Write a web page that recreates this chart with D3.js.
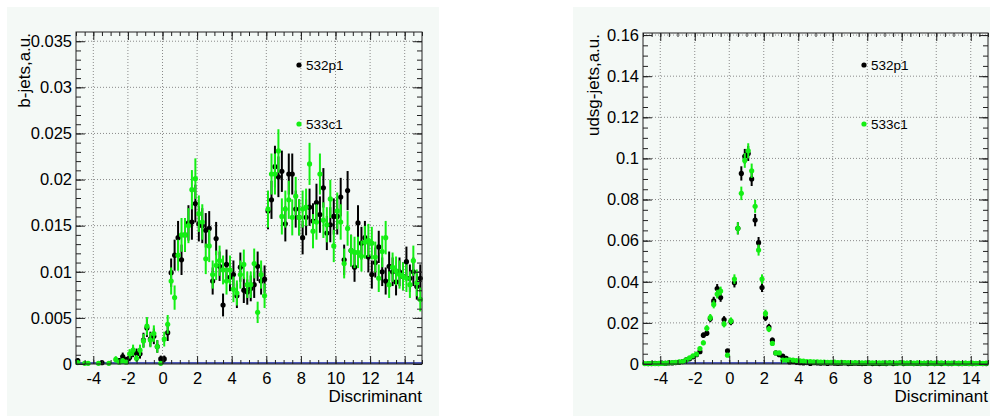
<html>
<head>
<meta charset="utf-8">
<script src="https://cdn.jsdelivr.net/npm/d3@7"></script>
<style>
  body { margin: 0; background: #fff; }
  text { font-family: "Liberation Sans", Arial, Helvetica, sans-serif; fill: #000; }
</style>
</head>
<body>
<div id="chart"></div>
<script>
// 100 bins from -5 to 15, null = empty bin (ROOT does not draw it)
const binLow = -5, binWidth = 0.2, nBins = 100
const binCenters = d3.range(nBins).map(i => binLow + binWidth * (i + 0.5))

const seriesNames = ["532p1", "533c1"]
const xTicks = [-4, -2, 0, 2, 4, 6, 8, 10, 12, 14]

// b-jets
const bjets532p1 = [
  0.00036, null, null, null, null, null, null, 0.00014, null, null,
  null, null, 0.00036, 0.0008, 0.00045, 0.0007, 0.0013, 0.00115, 0.0011, 0.0026,
  0.0039, 0.0027, 0.003, 0.0019, 0.00055, 0.00055, 0.0034, 0.0099, 0.0118, 0.0137,
  0.0113, 0.014, 0.0153, 0.0154, 0.0174, 0.0152, 0.015, 0.0145, 0.0147, 0.009,
  0.0136, 0.0106, 0.0064, 0.0108, 0.0094, 0.0097, 0.0074, 0.0105, 0.008, 0.0078,
  0.0082, 0.0086, 0.0106, 0.009, 0.0092, 0.0166, 0.0178, 0.0214, 0.0203, 0.0209,
  0.0152, 0.0206, 0.0206, 0.0168, 0.0159, 0.0137, 0.0159, 0.017, 0.0155, 0.0175,
  0.0162, 0.0191, 0.0142, 0.0151, 0.016, 0.016, 0.0181, 0.0113, 0.0188, 0.0123,
  0.0105, 0.0153, 0.0131, 0.0137, 0.0116, 0.0097, 0.011, 0.0127, 0.01, 0.009,
  0.0106, 0.01, 0.0089, 0.01, 0.0095, 0.0111, 0.0093, 0.01, 0.0084, 0.0093
]
const bjets533c1 = [
  0.00015, null, 0.00007, 0.00007, null, null, 0.00007, null, null, 0.00007,
  null, 0.0005, 0.0002, 0.00035, 0.0002, 0.0011, 0.0015, 0.0006, 0.0015, 0.0025,
  0.0041, 0.0026, 0.0033, 0.0019, 0.00007, 0.0027, 0.0043, 0.009, 0.0072, 0.0118,
  0.014, 0.014, 0.015, 0.0189, 0.0201, 0.0163, 0.0154, 0.0114, 0.0128, 0.0097,
  0.0107, 0.0112, 0.0102, 0.009, 0.0102, 0.0081, 0.0077, 0.0097, 0.0108, 0.0086,
  0.0086, 0.0109, 0.0056, 0.0097, 0.0074, 0.0168, 0.0206, 0.0206, 0.0231, 0.016,
  0.0168, 0.0178, 0.0159, 0.0182, 0.0159, 0.0168, 0.017, 0.0217, 0.0144, 0.0154,
  0.0206, 0.0156, 0.0151, 0.0179, 0.0128, 0.0166, 0.0154, 0.0109, 0.0147, 0.0123,
  0.0121, 0.0121, 0.0117, 0.0132, 0.0134, 0.0131, 0.0116, 0.0093, 0.0122, 0.0137,
  0.0086, 0.0105, 0.0101, 0.0097, 0.0095, 0.0093, 0.0086, 0.0112, 0.0088, 0.007
]

// udsg-jets
const udsg532p1 = [
  null, 0.0002, 0.0002, 0.0003, 0.0002, 0.0004, 0.0003, 0.0005, 0.0005, 0.0007,
  0.0008, 0.0012, 0.002, 0.0025, 0.0035, 0.0045, 0.006, 0.014, 0.015, 0.022,
  0.0307, 0.0367, 0.0323, 0.0216, 0.0064, 0.0205, 0.0395, 0.066, 0.0927, 0.101,
  0.1024, 0.09, 0.07, 0.059, 0.0372, 0.0226, 0.018, 0.0116, 0.0054, 0.0045,
  0.0038, 0.0027, 0.001, 0.0012, 0.0008, 0.0006, 0.0005, 0.0007, 0.0003, 0.0006,
  0.0005, 0.0004, 0.0005, 0.0003, 0.0005, 0.0004, 0.0003, 0.0004, 0.0005, 0.0002,
  0.0003, 0.0004, 0.0003, 0.0002, 0.0003, 0.0004, 0.0002, 0.0003, 0.0002, 0.0003,
  0.0002, 0.0005, 0.0002, 0.0003, 0.0006, 0.0002, 0.0003, 0.0004, 0.0002, 0.0003,
  0.0002, 0.0003, 0.0002, 0.0004, 0.0002, 0.0003, 0.0002, 0.0003, 0.0002, 0.0002,
  0.0003, 0.0002, 0.0002, 0.0003, 0.0002, 0.0002, 0.0002, 0.0003, 0.0002, 0.0002
]
const udsg533c1 = [
  0.0002, 0.0002, 0.0003, 0.0002, 0.0003, 0.0003, 0.0004, 0.0006, 0.0007, 0.0008,
  0.001, 0.0012, 0.002, 0.003, 0.004, 0.0048, 0.0075, 0.0103, 0.0174, 0.0226,
  0.029, 0.034, 0.0355, 0.0194, 0.0043, 0.021, 0.0413, 0.066, 0.083, 0.099,
  0.1037, 0.094, 0.0767, 0.0554, 0.0413, 0.0246, 0.017, 0.01, 0.0054, 0.0054,
  0.0019, 0.0019, 0.002, 0.0019, 0.0017, 0.0015, 0.0014, 0.0012, 0.0012, 0.001,
  0.001, 0.0009, 0.0009, 0.0008, 0.0008, 0.0009, 0.0007, 0.0008, 0.0007, 0.0007,
  0.0006, 0.0007, 0.0006, 0.0006, 0.0006, 0.0005, 0.0006, 0.0005, 0.0006, 0.0005,
  0.0005, 0.0005, 0.0006, 0.0004, 0.0005, 0.0005, 0.0004, 0.0005, 0.0004, 0.0005,
  0.0004, 0.0004, 0.0005, 0.0004, 0.0004, 0.0004, 0.0005, 0.0003, 0.0004, 0.0004,
  0.0003, 0.0004, 0.0003, 0.0004, 0.0003, 0.0004, 0.0003, 0.0003, 0.0003, 0.0004
]

// statistical errors: sqrt(content * weight), weight
const bjetsErrWeight = 2.4e-4
const udsgErrWeight = 1.3e-4

const colors = ["#000000", "#14ee14"]

const panels = [
  { padX: 7, padW: 432, left: 76, top: 32, right: 422, bottom: 364,
    yMax: 0.036, yStep: 0.005, yMinorStep: 0.001, yTitle: "b-jets,a.u.", titleX: 30,
    data: [bjets532p1, bjets533c1], errWeight: bjetsErrWeight,
    legendX: 299, legendY: [65, 124] },
  { padX: 573, padW: 432, left: 643, top: 33, right: 988, bottom: 364,
    yMax: 0.161, yStep: 0.02, yMinorStep: 0.005, yTitle: "udsg-jets,a.u.", titleX: 599,
    data: [udsg532p1, udsg533c1], errWeight: udsgErrWeight,
    legendX: 864, legendY: [65, 124] }
]

const svg = d3.select("#chart").append("svg")
  .attr("width", 990)
  .attr("height", 417)

panels.forEach(p => {
  const g = svg.append("g")

  g.append("rect")
    .attr("x", p.padX).attr("y", 7)
    .attr("width", p.padW).attr("height", 409)
    .attr("fill", "#f4f9f6")

  const x = d3.scaleLinear().domain([binLow, binLow + nBins * binWidth]).range([p.left, p.right])
  const y = d3.scaleLinear().domain([0, p.yMax]).range([p.bottom, p.top])

  const yMajor = d3.range(0, p.yMax + 1e-9, p.yStep)
  const yMinor = d3.range(0, p.yMax, p.yMinorStep)
  const xMinor = d3.range(-5, 15.01, 0.5)

  // grid
  g.append("g").selectAll("line").data(xTicks).enter().append("line")
    .attr("x1", d => x(d)).attr("x2", d => x(d))
    .attr("y1", p.top).attr("y2", p.bottom)
    .attr("stroke", "#8a8a8a").attr("stroke-dasharray", "1,2")
  g.append("g").selectAll("line").data(yMajor.slice(1)).enter().append("line")
    .attr("x1", p.left).attr("x2", p.right)
    .attr("y1", d => y(d)).attr("y2", d => y(d))
    .attr("stroke", "#8a8a8a").attr("stroke-dasharray", "1,2")

  // zero line of the histograms
  g.append("line")
    .attr("x1", p.left).attr("x2", p.right)
    .attr("y1", y(0) - 1).attr("y2", y(0) - 1)
    .attr("stroke", "#4c58b8").attr("stroke-width", 2)

  // points with error bars
  p.data.forEach((vals, s) => {
    const pts = vals.map((v, i) => ({ x: binCenters[i], v: v }))
      .filter(d => d.v !== null)
    const sg = g.append("g")
    sg.selectAll("line").data(pts).enter().append("line")
      .attr("x1", d => x(d.x)).attr("x2", d => x(d.x))
      .attr("y1", d => y(d.v + Math.sqrt(d.v * p.errWeight)))
      .attr("y2", d => y(Math.max(0, d.v - Math.sqrt(d.v * p.errWeight))))
      .attr("stroke", colors[s]).attr("stroke-width", 2)
    sg.selectAll("circle").data(pts).enter().append("circle")
      .attr("cx", d => x(d.x)).attr("cy", d => y(d.v))
      .attr("r", 2.6)
      .attr("fill", colors[s])
  })

  // frame
  g.append("rect")
    .attr("x", p.left).attr("y", p.top)
    .attr("width", p.right - p.left).attr("height", p.bottom - p.top)
    .attr("fill", "none").attr("stroke", "#222")

  const tickStyle = sel => {
    sel.select(".domain").remove()
    sel.selectAll(".tick line").attr("stroke", "#222")
  }
  const labelStyle = sel => sel.selectAll("text")
    .attr("font-size", "16.5px")
    .attr("font-family", "Liberation Sans, Arial, sans-serif")
    .attr("fill", "#000")

  // x axis: labels + major ticks inside, minor ticks, same on top
  g.append("g").attr("transform", `translate(0,${p.bottom})`)
    .call(d3.axisBottom(x).tickValues(xTicks).tickSize(-8).tickPadding(8).tickFormat(d => String(d)))
    .call(tickStyle)
    .call(labelStyle)
  g.append("g").attr("transform", `translate(0,${p.bottom})`)
    .call(d3.axisBottom(x).tickValues(xMinor).tickSize(-4).tickFormat(""))
    .call(tickStyle)
  g.append("g").attr("transform", `translate(0,${p.top})`)
    .call(d3.axisTop(x).tickValues(xTicks).tickSize(-8).tickFormat(""))
    .call(tickStyle)
  g.append("g").attr("transform", `translate(0,${p.top})`)
    .call(d3.axisTop(x).tickValues(xMinor).tickSize(-4).tickFormat(""))
    .call(tickStyle)

  // y axis
  g.append("g").attr("transform", `translate(${p.left},0)`)
    .call(d3.axisLeft(y).tickValues(yMajor).tickSize(-9).tickPadding(4).tickFormat(d3.format("~g")))
    .call(tickStyle)
    .call(labelStyle)
  g.append("g").attr("transform", `translate(${p.left},0)`)
    .call(d3.axisLeft(y).tickValues(yMinor).tickSize(-5).tickFormat(""))
    .call(tickStyle)
  g.append("g").attr("transform", `translate(${p.right},0)`)
    .call(d3.axisRight(y).tickValues(yMajor).tickSize(-9).tickFormat(""))
    .call(tickStyle)
  g.append("g").attr("transform", `translate(${p.right},0)`)
    .call(d3.axisRight(y).tickValues(yMinor).tickSize(-5).tickFormat(""))
    .call(tickStyle)

  // titles
  g.append("text")
    .attr("x", p.right).attr("y", 401.5)
    .attr("text-anchor", "end")
    .attr("font-size", "17px")
    .text("Discriminant")
  g.append("text")
    .attr("transform", `translate(${p.titleX},${p.top + 1}) rotate(-90)`)
    .attr("text-anchor", "end")
    .attr("font-size", "17px")
    .text(p.yTitle)

  // legend
  seriesNames.forEach((name, s) => {
    g.append("circle")
      .attr("cx", p.legendX).attr("cy", p.legendY[s])
      .attr("r", 2.6).attr("fill", colors[s])
    g.append("text")
      .attr("x", p.legendX + 7).attr("y", p.legendY[s] + 5)
      .attr("font-size", "13.5px")
      .text(name)
  })
})
</script>
</body>
</html>
